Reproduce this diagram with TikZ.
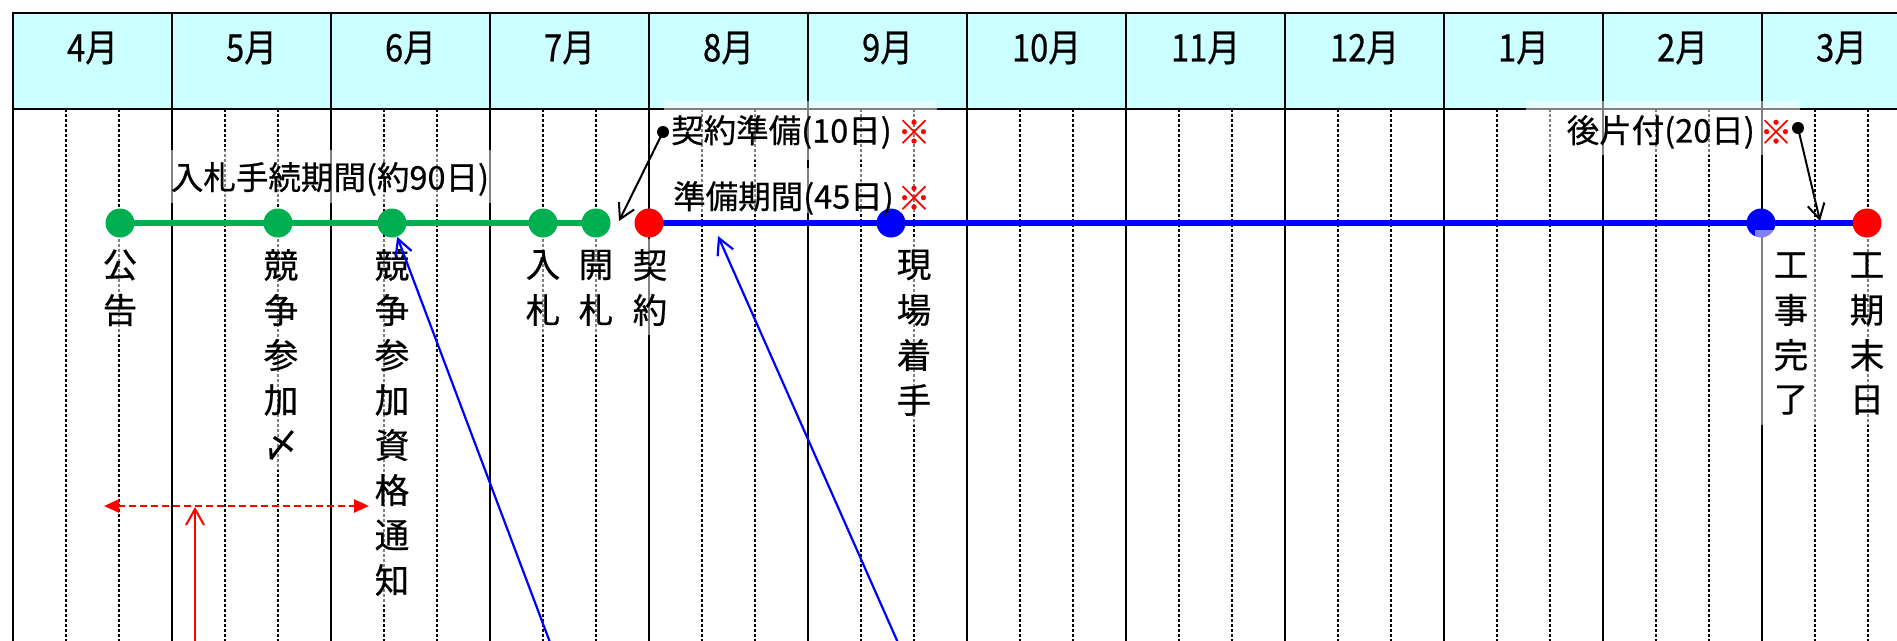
\documentclass[tikz,border=0pt]{standalone}
\usepackage{fontspec}
\setmainfont{Noto Sans CJK JP}[FakeBold=0.6]
\newfontfamily\hdrfont{Noto Sans CJK JP}[FakeStretch=0.86,FakeBold=0.6]
\usetikzlibrary{arrows.meta}
\definecolor{hdr}{HTML}{CCFFFF}
\definecolor{grn}{HTML}{00B050}
\definecolor{blu}{HTML}{0000FF}
\definecolor{rd}{HTML}{FF0000}
\newcommand\vlabel[6]{%
  \fill[white,opacity=0.5] ({#2-#6},#5) rectangle ({#2+#6},{265+45*(#3-1)+25});
  \foreach \c [count=\i] in {#4} \node[vchar] (#1-\i) at (#2,{265+45*(\i-1)}) {\c};
}
\begin{document}
\begin{tikzpicture}[x=1pt,y=-1pt,
  gridline/.style={line width=2pt,black},
  dotline/.style={line width=2pt,black,dash pattern=on 2.5pt off 2.5pt},
  lbox/.style={white,opacity=0.5},
  vchar/.style={font=\fontsize{34.5}{34.5}\selectfont,inner sep=0pt},
  htext/.style={font=\fontsize{32.5}{32.5}\selectfont,inner sep=0pt},
  mhead/.style={font=\hdrfont\fontsize{38}{38}\selectfont,inner sep=0pt},
  mk/.style={circle,minimum size=29pt,inner sep=0pt,draw=none},
  bdot/.style={circle,minimum size=12pt,inner sep=0pt,fill=black},
  note/.style={font=\fontsize{33}{33}\selectfont,inner sep=0pt,text=rd},
  barbB/.style={line width=2pt,-{Straight Barb[length=15pt,width=17pt]}},
]
\useasboundingbox (0,0) rectangle (1897,640);
\clip (0,0) rectangle (1897,640);
\fill[white] (0,0) rectangle (1897,640);
% header
\fill[hdr] (13,12.5) rectangle (1900,109);
\foreach \m [count=\i from 0] in {4月,5月,6月,7月,8月,9月,10月,11月,12月,1月,2月,3月}
  \node[mhead] (mh\i) at ({13+159*\i+79.5},48) {\m};
% grid
\foreach \i in {0,...,11} {
  \draw[dotline] ({13+159*\i+53},109) -- ({13+159*\i+53},645);
  \draw[dotline] ({13+159*\i+106},109) -- ({13+159*\i+106},645);
}
\foreach \i in {0,...,11}
  \draw[gridline] ({13+159*\i},12.5) -- ({13+159*\i},645);
\draw[gridline] (12,12.5) -- (1900,12.5);
\draw[gridline] (12,109) -- (1900,109);
% horizontal label boxes
\fill[lbox] (168,150) rectangle (495,203);
\fill[lbox] (664,101) rectangle (937,160);
\fill[lbox] (664,168) rectangle (937,213);
\fill[lbox] (1526,101) rectangle (1800,155);
% markers
\coordinate (g1) at (120,223);
\coordinate (g5) at (596,223);
\coordinate (k0) at (649,223);
\coordinate (e0) at (1867,223);
\draw[grn,line width=6pt] (g1) -- (g5);
\draw[blu,line width=6pt] (k0) -- (e0);
\node[mk,fill=grn] (m1) at (120,223) {};
\node[mk,fill=grn] (m2) at (278,223) {};
\node[mk,fill=grn] (m3) at (392,223) {};
\node[mk,fill=grn] (m4) at (543,223) {};
\node[mk,fill=grn] (m5) at (596,223) {};
\node[mk,fill=rd] (k) at (649,223) {};
\node[mk,fill=blu] (b1) at (891,223) {};
\node[mk,fill=blu] (b2) at (1761,223) {};
\node[mk,fill=rd] (e) at (1867,223) {};
% vertical labels
\vlabel{l1}{120}{2}{公,告}{239}{20}
\vlabel{l2}{281}{5}{競,争,参,加,〆}{239}{20}
\vlabel{l3}{392}{8}{競,争,参,加,資,格,通,知}{239}{20}
\vlabel{l4}{543}{2}{入,札}{239}{20}
\vlabel{l5}{596}{2}{開,札}{239}{20}
\vlabel{l6}{650}{2}{契,約}{239}{20}
\vlabel{l7}{914}{4}{現,場,着,手}{239}{20}
\vlabel{l8}{1791}{4}{工,事,完,了}{230}{36}
\vlabel{l9}{1867}{4}{工,期,末,日}{239}{20}
% horizontal labels
\node[htext] (t1) at (330,179) {入札手続期間(約90日)};
\node[htext,anchor=west] (t2) at (671,132) {契約準備(10日)};
\node[note] (n2) at (914,132) {※};
\node[htext,anchor=west] (t3) at (673,198) {準備期間(45日)};
\node[note] (n3) at (914,198) {※};
\node[htext,anchor=east] (t4) at (1755,132) {後片付(20日)};
\node[note] (n4) at (1776,132) {※};
% black pointer arrows
\node[bdot] (d1) at (663,132) {};
\coordinate (d1t) at (619,221);
\draw[barbB] (d1.center) -- (d1t);
\node[bdot] (d2) at (1798,128) {};
\coordinate (d2t) at (1820,221);
\draw[barbB] (d2.center) -- (d2t);
% blue arrows from below
\coordinate (u1) at (551,645);
\draw[blu,line width=2.2pt,-{Straight Barb[length=16pt,width=17pt]}] (u1) -- (m3);
\coordinate (u2) at (899,645);
\coordinate (u2t) at (718,236);
\draw[blu,line width=2.2pt,-{Straight Barb[length=16pt,width=17pt]}] (u2) -- (u2t);
% red arrows
\coordinate (r1) at (104,506);
\coordinate (r2) at (369,506);
\draw[rd,line width=2.5pt,dash pattern=on 7pt off 4pt,{Triangle[length=15pt,width=13pt]}-{Triangle[length=15pt,width=13pt]}] (r1) -- (r2);
\coordinate (r3) at (195,645);
\coordinate (r4) at (195,507);
\draw[rd,line width=2pt,-{Straight Barb[length=16pt,width=18pt]}] (r3) -- (r4);
\end{tikzpicture}
\end{document}
